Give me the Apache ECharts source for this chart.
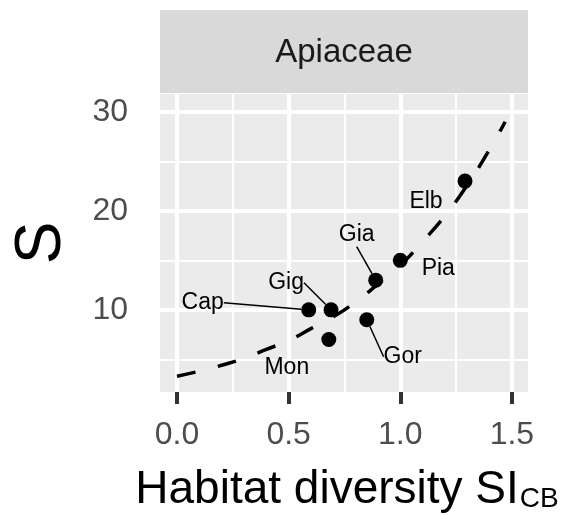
<!DOCTYPE html>
<html>
<head>
<meta charset="utf-8">
<script src="https://cdn.jsdelivr.net/npm/echarts@6/dist/echarts.min.js"></script>
<style>
html,body{margin:0;padding:0;background:#fff;}
#chart{width:561px;height:516px;}
</style>
</head>
<body>
<div id="chart"></div>
<script>
// ---- data ----
var siteNames = ['Cap', 'Gig', 'Mon', 'Gor', 'Gia', 'Pia', 'Elb'];
var siteX = [0.59, 0.69, 0.68, 0.85, 0.89, 1.00, 1.29];
var siteY = [10, 10, 7, 9, 13, 15, 23];
var curveX = [0, 0.1, 0.2, 0.3, 0.4, 0.5, 0.6, 0.7, 0.8, 0.9, 1.0, 1.1, 1.2, 1.3, 1.4, 1.47];
var curveY = [3.3, 3.8, 4.4, 5.1, 6.0, 6.9, 8.1, 9.3, 10.8, 12.6, 14.5, 16.9, 19.5, 22.6, 26.2, 29.0];
var xTicks = [0, 0.5, 1.0, 1.5];
var xMinor = [0.25, 0.75, 1.25];
var yTicks = [10, 20, 30];
var yMinor = [5, 15, 25];
var facetLabel = 'Apiaceae';
var xTitle = 'Habitat diversity SI';
var xTitleSub = 'CB';
var yTitle = 'S';

// ---- styling ----
var FONT = '"Liberation Sans", Arial, sans-serif';
var labelOffsets = {Cap: [-106, -7], Gig: [-45, -27], Mon: [-42, 28], Gor: [36, 37], Gia: [-19, -45], Pia: [38, 8], Elb: [-39, 21]};
var labelLineOn = {Cap: true, Gig: true, Mon: false, Gor: true, Gia: true, Pia: false, Elb: false};

var chart = echarts.init(document.getElementById('chart'), null, {renderer: 'canvas'});

var gridLines = [];
xTicks.forEach(function (v) { gridLines.push({xAxis: v, lineStyle: {width: 4}}); });
xMinor.forEach(function (v) { gridLines.push({xAxis: v, lineStyle: {width: 2}}); });
yTicks.forEach(function (v) { gridLines.push({yAxis: v, lineStyle: {width: 4}}); });
yMinor.forEach(function (v) { gridLines.push({yAxis: v, lineStyle: {width: 2}}); });

var scatterData = siteNames.map(function (n, i) {
  return {
    name: n,
    value: [siteX[i], siteY[i]],
    labelLine: {show: labelLineOn[n]}
  };
});

var option = {
  animation: false,
  backgroundColor: '#ffffff',
  grid: {
    left: 160, right: 33, top: 94, bottom: 124,
    containLabel: false, outerBoundsMode: 'none',
    show: true, backgroundColor: '#ebebeb', borderWidth: 0
  },
  xAxis: {
    type: 'value',
    min: -0.076, max: 1.572,
    axisLine: {show: true, lineStyle: {color: 'rgba(0,0,0,0)'}},
    splitLine: {show: false},
    axisTick: {show: true, customValues: xTicks, length: 12, lineStyle: {color: '#333333', width: 4}},
    axisLabel: {
      customValues: xTicks, margin: 27,
      fontFamily: FONT, fontSize: 32, color: '#4d4d4d',
      formatter: function (v) { return v.toFixed(1); }
    },
    name: '{a|' + xTitle + '}{b|' + xTitleSub + '}',
    nameLocation: 'middle',
    nameGap: 75,
    nameTextStyle: {
      rich: {
        a: {fontFamily: FONT, fontSize: 46, color: '#000', lineHeight: 56, verticalAlign: 'top', padding: [0, 0, 0, 6]},
        b: {fontFamily: FONT, fontSize: 28, color: '#000', verticalAlign: 'top', padding: [18, 0, 0, 1]}
      }
    }
  },
  yAxis: {
    type: 'value',
    min: 1.7, max: 31.8,
    axisLine: {show: true, lineStyle: {color: 'rgba(0,0,0,0)'}},
    splitLine: {show: false},
    axisTick: {show: true, customValues: yTicks, length: 13, lineStyle: {color: '#333333', width: 4}},
    axisLabel: {
      customValues: yTicks, margin: 32,
      fontFamily: FONT, fontSize: 32, color: '#4d4d4d'
    },
    name: yTitle,
    nameLocation: 'middle',
    nameRotate: 90,
    nameGap: 86,
    nameTextStyle: {fontFamily: FONT, fontSize: 64, color: '#000'}
  },
  graphic: [
    {
      type: 'group', left: 160, top: 10,
      children: [
        {type: 'rect', shape: {x: 0, y: 0, width: 368, height: 83}, style: {fill: '#d9d9d9'}},
        {type: 'text', x: 184, y: 43, style: {text: facetLabel, fontFamily: FONT, fontSize: 33, fill: '#1a1a1a', align: 'center', verticalAlign: 'middle'}}
      ]
    }
  ],
  series: [
    {
      type: 'line', data: [], z: 1, silent: true,
      markLine: {
        z: 1, silent: true, symbol: ['none', 'none'], animation: false,
        label: {show: false},
        lineStyle: {color: '#ffffff', type: 'solid', opacity: 1},
        emphasis: {disabled: true},
        data: gridLines
      }
    },
    {
      type: 'line', z: 3, silent: true,
      data: curveX.map(function (x, i) { return [x, curveY[i]]; }),
      smooth: true, showSymbol: false, symbol: 'none',
      lineStyle: {color: '#000000', width: 3.5, type: [19, 23]}
    },
    {
      type: 'scatter', z: 4,
      data: scatterData,
      symbol: 'circle', symbolSize: 15,
      itemStyle: {color: '#000000', opacity: 1},
      label: {
        show: true, position: 'inside',
        formatter: '{b}',
        fontFamily: FONT, fontSize: 23, color: '#000000'
      },
      labelLine: {show: true, lineStyle: {color: '#000000', width: 1.5}},
      labelLayout: function (params) {
        var n = siteNames[params.dataIndex];
        var o = labelOffsets[n];
        return {dx: o[0], dy: o[1]};
      }
    }
  ]
};
chart.setOption(option);
</script>
</body>
</html>
